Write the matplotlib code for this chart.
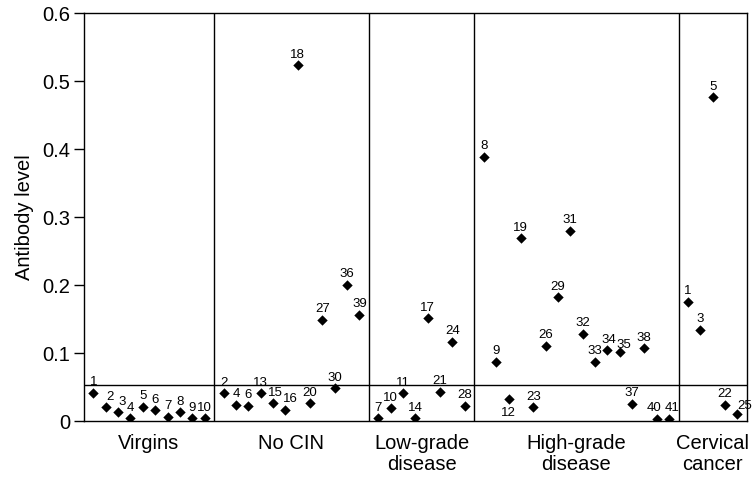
import numpy as np
import matplotlib
matplotlib.use("Agg")
import matplotlib.pyplot as plt

plt.rcParams['font.family'] = ['Liberation Sans', 'DejaVu Sans']

# =========================
# data
# =========================

groups = ["Virgins", "No CIN", "Low-grade\ndisease", "High-grade\ndisease", "Cervical\ncancer"]

virgins_ids = [1, 2, 3, 4, 5, 6, 7, 8, 9, 10]
virgins_vals = [0.042, 0.020, 0.013, 0.004, 0.021, 0.016, 0.006, 0.013, 0.004, 0.004]

nocin_ids = [2, 4, 6, 13, 15, 16, 18, 20, 27, 30, 36, 39]
nocin_vals = [0.041, 0.024, 0.022, 0.041, 0.026, 0.017, 0.523, 0.026, 0.149, 0.048, 0.200, 0.156]

low_ids = [7, 10, 11, 14, 17, 21, 24, 28]
low_vals = [0.004, 0.019, 0.041, 0.004, 0.151, 0.043, 0.117, 0.022]

high_ids = [8, 9, 12, 19, 23, 26, 29, 31, 32, 33, 34, 35, 37, 38, 40, 41]
high_vals = [0.389, 0.087, 0.032, 0.269, 0.020, 0.111, 0.182, 0.280, 0.128,
             0.087, 0.104, 0.101, 0.025, 0.107, 0.003, 0.003]

cancer_ids = [1, 3, 5, 22, 25]
cancer_vals = [0.175, 0.134, 0.476, 0.024, 0.010]

cutoff = 0.053

# label offsets in points (dx, dy) for crowded ones
special = {
    ("No CIN", 16): (4, 5.5),
    ("No CIN", 15): (2, 5.5),
    ("Virgins", 2): (3, 5.5),
    ("Virgins", 3): (3, 5.5),
    ("High-grade\ndisease", 12): (0, -12),
    ("High-grade\ndisease", 34): (1, 5.5),
    ("High-grade\ndisease", 35): (3, 3.5),
    ("High-grade\ndisease", 40): (-2, 5.5),
    ("High-grade\ndisease", 41): (2, 5.5),
    ("Cervical\ncancer", 25): (5, 4),
}

all_ids = [virgins_ids, nocin_ids, low_ids, high_ids, cancer_ids]
all_vals = [virgins_vals, nocin_vals, low_vals, high_vals, cancer_vals]

# =========================
# plot
# =========================

fig = plt.figure(figsize=(7.56, 4.84), dpi=100)
ax = fig.add_axes([0.111, 0.130, 0.877, 0.843])

margin = 0.77
left = 0.0
centers = []
dividers = []

for name, ids, vals in zip(groups, all_ids, all_vals):
    n = len(ids)
    xs = left + margin + np.arange(n)
    ax.scatter(xs, vals, marker="D", s=28, color="black", zorder=3, linewidths=0)
    for x, v, i in zip(xs, vals, ids):
        dx, dy = special.get((name, i), (0, 5.5))
        ax.annotate(str(i), (x, v), xytext=(dx, dy), textcoords="offset points",
                    ha="center", va="baseline", fontsize=9.5)
    width = n - 1 + 2 * margin
    centers.append(left + width / 2)
    left += width
    dividers.append(left)

for d in dividers[:-1]:
    ax.axvline(d, color="black", lw=1.0)

ax.axhline(cutoff, color="black", lw=1.0)

ax.set_xlim(0, left)
ax.set_ylim(0, 0.6)

ax.set_yticks([0, 0.1, 0.2, 0.3, 0.4, 0.5, 0.6])
ax.set_yticklabels(["0", "0.1", "0.2", "0.3", "0.4", "0.5", "0.6"], fontsize=14.5)
ax.tick_params(axis="y", length=7, width=1.0, pad=3)

ax.set_xticks(centers)
ax.set_xticklabels(groups, fontsize=14.5, linespacing=1.15)
ax.tick_params(axis="x", length=0, pad=9)

ax.set_ylabel("Antibody level", fontsize=14.5, labelpad=6)

for s in ax.spines.values():
    s.set_linewidth(1.0)

fig.savefig("out.png", dpi=100)
